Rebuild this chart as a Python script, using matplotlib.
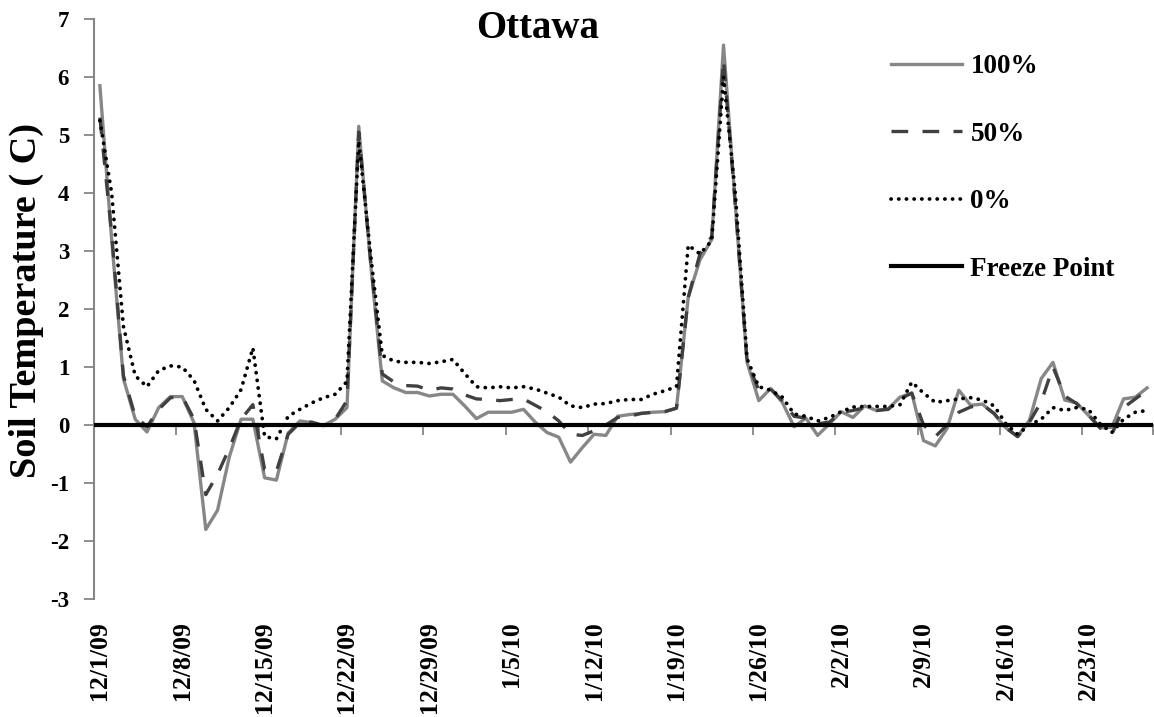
import numpy as np
import matplotlib
matplotlib.use("Agg")
import matplotlib.pyplot as plt
from datetime import date, timedelta

# daily soil temperature (C), 12/1/09 - 2/28/10
start = date(2009, 12, 1)
n_days = 90
days = np.arange(n_days)
dates = [start + timedelta(days=int(d)) for d in days]

temp_100 = [5.85, 3.2, 0.8, 0.1, -0.12, 0.3, 0.49, 0.49, 0.04, -1.8,
            -1.47, -0.55, 0.1, 0.1, -0.91, -0.95, -0.14, 0.07, 0.04, -0.01,
            0.1, 0.3, 5.15, 2.8, 0.76, 0.64, 0.56, 0.56, 0.5, 0.53,
            0.53, 0.33, 0.11, 0.22, 0.22, 0.22, 0.27, 0.05, -0.13, -0.21,
            -0.64, -0.39, -0.16, -0.18, 0.15, 0.18, 0.2, 0.22, 0.23, 0.29,
            2.2, 2.85, 3.2, 6.55, 3.8, 1.08, 0.42, 0.63, 0.39, -0.03,
            0.12, -0.18, 0.02, 0.23, 0.13, 0.33, 0.25, 0.28, 0.48, 0.55,
            -0.27, -0.36, -0.06, 0.6, 0.34, 0.36, 0.19, -0.05, -0.2, 0.08,
            0.8, 1.08, 0.43, 0.38, 0.17, -0.05, -0.04, 0.45, 0.48, 0.64]

temp_50 = [5.3, 3.3, 0.85, 0.15, -0.03, 0.27, 0.47, 0.49, 0.1, -1.2,
           -0.85, -0.4, 0.1, 0.35, -0.77, -0.8, -0.16, 0.04, 0.05, -0.01,
           0.1, 0.42, 5.05, 2.85, 0.88, 0.74, 0.68, 0.67, 0.6, 0.64,
           0.62, 0.52, 0.45, 0.44, 0.42, 0.44, 0.45, 0.34, 0.23, 0.07,
           -0.16, -0.18, -0.1, 0.0, 0.13, 0.15, 0.2, 0.22, 0.23, 0.29,
           2.2, 2.95, 3.25, 6.3, 3.8, 1.1, 0.6, 0.62, 0.42, 0.15,
           0.12, 0.02, 0.05, 0.22, 0.25, 0.3, 0.25, 0.27, 0.45, 0.55,
           0.0, -0.2, 0.0, 0.22, 0.31, 0.35, 0.2, -0.05, -0.2, 0.05,
           0.4, 1.0, 0.5, 0.37, 0.18, -0.05, -0.16, 0.3, 0.45, 0.6]

temp_0 = [5.25, 4.0, 1.7, 0.85, 0.66, 0.94, 1.02, 1.0, 0.77, 0.27,
          0.07, 0.3, 0.61, 1.33, -0.2, -0.24, 0.15, 0.27, 0.38, 0.47,
          0.53, 0.75, 4.9, 2.95, 1.2, 1.1, 1.08, 1.08, 1.06, 1.09,
          1.13, 0.89, 0.66, 0.64, 0.66, 0.64, 0.66, 0.62, 0.55, 0.48,
          0.33, 0.3, 0.36, 0.37, 0.42, 0.44, 0.44, 0.53, 0.59, 0.66,
          3.1, 2.95, 3.18, 6.0, 4.0, 1.14, 0.66, 0.6, 0.48, 0.19,
          0.15, 0.07, 0.13, 0.23, 0.31, 0.32, 0.32, 0.32, 0.35, 0.74,
          0.55, 0.39, 0.42, 0.45, 0.47, 0.43, 0.33, 0.02, -0.16, 0.0,
          0.1, 0.3, 0.25, 0.3, 0.27, 0.02, -0.13, 0.1, 0.22, 0.25]

freeze_point = 0.0

label_days = days[::7]
tick_labels = [f"{d.month}/{d.day}/{d.year % 100:02d}" for d in dates[::7]]

plt.rcParams["font.family"] = ["Liberation Serif", "DejaVu Serif"]
plt.rcParams["font.weight"] = "bold"

axis_gray = "#868686"

fig = plt.figure(figsize=(11.54, 7.17), dpi=100)
ax = fig.add_axes([94 / 1154, 118 / 717, 1059 / 1154, 580 / 717])

ax.plot(days, temp_100, color="#878787", lw=2.4, label="100%", zorder=2)
ax.plot(days, temp_50, color="#404040", lw=2.4, linestyle=(0, (5, 4.3)),
        label="50%", zorder=3)
ax.plot(days, temp_0, color="black", lw=2.7, linestyle=(0, (0.05, 2.0)),
        dash_capstyle="round", label="0%", zorder=4)
ax.axhline(freeze_point, color="black", lw=3, label="Freeze Point", zorder=5)

ax.set_xlim(-0.5, n_days - 0.5)
ax.set_ylim(-3, 7)
ax.set_yticks(range(-3, 8))
ax.set_yticklabels([str(v) for v in range(-3, 8)])

# date labels along the bottom, week tick marks on the zero line
ax.set_xticks(label_days)
ax.set_xticklabels(tick_labels, rotation=90)
ax.tick_params(axis="x", length=0, pad=16, labelsize=18.5)
ax.tick_params(axis="y", length=7, width=1.3, color=axis_gray, pad=11,
               labelsize=16.5)

for side in ["top", "right", "bottom"]:
    ax.spines[side].set_visible(False)
ax.spines["left"].set_color(axis_gray)
ax.spines["left"].set_linewidth(1.5)

zero_axis = ax.secondary_xaxis((freeze_point + 3) / 10)
zero_axis.set_xticks(np.append(np.arange(-0.5, n_days, 7), n_days - 0.5))
zero_axis.tick_params(length=7, width=1.3, color=axis_gray, labelbottom=False)
zero_axis.spines["bottom"].set_color(axis_gray)
zero_axis.spines["bottom"].set_linewidth(1.5)

fig.text(538 / 1154, 1 - 29 / 717, "Ottawa", ha="center", va="center",
         fontsize=28, fontweight="bold")
fig.text(26 / 1154, 1 - 300 / 717, "Soil Temperature ( C)", rotation=90,
         ha="center", va="center", fontsize=27.5, fontweight="bold")

ax.legend(loc="upper left", bbox_to_anchor=(867 / 1154, 1 - 30 / 717),
          bbox_transform=fig.transFigure, frameon=False, handlelength=2.62,
          handletextpad=0.3, labelspacing=1.57,
          prop={"size": 19.5, "weight": "bold"})

fig.savefig("out.png", dpi=100)
